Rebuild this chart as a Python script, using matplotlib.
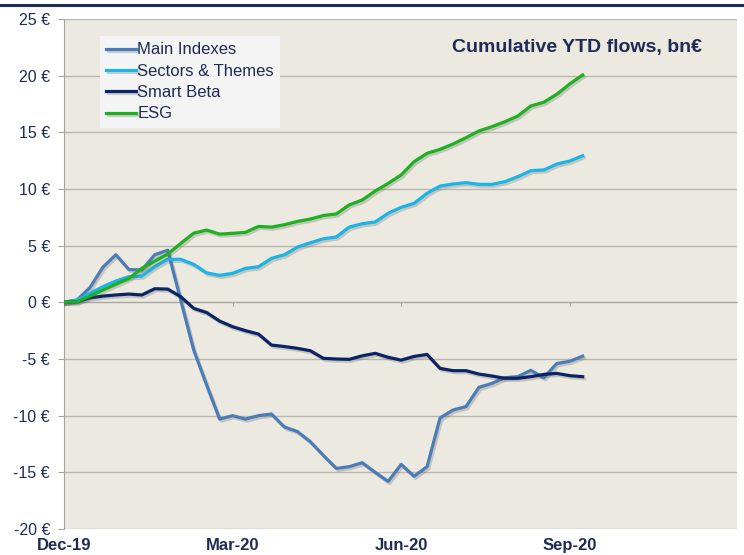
import matplotlib
matplotlib.use("Agg")
import matplotlib.pyplot as plt
import matplotlib.patheffects as pe
from matplotlib.lines import Line2D

# Weekly cumulative YTD flows (bn EUR), week 0 = end Dec-19
main_indexes = [0.0, 0.2, 1.3, 3.1, 4.2, 2.9, 2.85, 4.2, 4.6, 0.2, -4.2, -7.3, -10.3,
                -10.0, -10.3, -10.0, -9.85, -11.0, -11.4, -12.3, -13.5, -14.65, -14.5,
                -14.15, -15.0, -15.8, -14.3, -15.35, -14.5, -10.2, -9.5, -9.2, -7.5,
                -7.15, -6.65, -6.55, -6.0, -6.65, -5.4, -5.2, -4.75]
sectors_themes = [0.0, 0.2, 0.8, 1.38, 1.88, 2.26, 2.32, 3.14, 3.8, 3.8, 3.35, 2.6, 2.38,
                  2.56, 3.0, 3.14, 3.88, 4.2, 4.87, 5.26, 5.6, 5.77, 6.64, 6.94, 7.09,
                  7.86, 8.38, 8.74, 9.62, 10.26, 10.44, 10.56, 10.41, 10.41, 10.65,
                  11.09, 11.62, 11.68, 12.2, 12.47, 12.94]
smart_beta = [0.0, 0.05, 0.4, 0.55, 0.65, 0.73, 0.65, 1.2, 1.17, 0.5, -0.53, -0.9, -1.65,
              -2.15, -2.5, -2.8, -3.77, -3.9, -4.06, -4.27, -4.94, -5.0, -5.03, -4.72,
              -4.5, -4.85, -5.1, -4.77, -4.6, -5.83, -6.03, -6.03, -6.33, -6.5, -6.7,
              -6.7, -6.56, -6.36, -6.27, -6.47, -6.56]
esg = [0.0, 0.05, 0.55, 1.08, 1.6, 2.1, 3.0, 3.64, 4.26, 5.2, 6.1, 6.38, 6.02, 6.09,
       6.18, 6.7, 6.64, 6.85, 7.14, 7.35, 7.66, 7.8, 8.6, 9.03, 9.82, 10.5, 11.24,
       12.41, 13.15, 13.5, 13.97, 14.53, 15.12, 15.5, 15.94, 16.44, 17.33, 17.65,
       18.36, 19.27, 20.06]

series_names = ["Main Indexes", "Sectors & Themes", "Smart Beta", "ESG"]
series_colors = ["#4A7DB8", "#19B4E8", "#0B2466", "#1DB11F"]
x_tick_pos = [0, 13, 26, 39]
x_tick_labels = ["Dec-19", "Mar-20", "Jun-20", "Sep-20"]
y_ticks = list(range(-20, 30, 5))

navy = "#1E2B55"
plt.rcParams["font.family"] = ["Liberation Sans", "DejaVu Sans"]

fig = plt.figure(figsize=(7.44, 5.55), dpi=100)
ax = fig.add_axes([64 / 744, 1 - 529 / 555, 673 / 744, 510 / 555])
ax.set_facecolor("#ECE9E0")

# thin navy rule across the top of the slide
fig.add_artist(Line2D([0, 1], [1 - 5 / 555, 1 - 5 / 555], color=navy, lw=2.2,
                      transform=fig.transFigure))

shadow = [pe.SimpleLineShadow(offset=(1.2, -1.5), alpha=0.25, shadow_color="#555555"),
          pe.Normal()]
for name, color, values in zip(series_names, series_colors,
                               [main_indexes, sectors_themes, smart_beta, esg]):
    ax.plot(range(len(values)), values, color=color, lw=2.3, label=name,
            path_effects=shadow, solid_joinstyle="round", zorder=3)

ax.set_xlim(0, 51.9)
ax.set_ylim(-20, 25)
ax.set_yticks(y_ticks)
ax.set_yticklabels([f"{v} €" for v in y_ticks])
ax.yaxis.grid(True, color="#B9B6AE", lw=1)
ax.set_axisbelow(True)

for side in ["top", "right"]:
    ax.spines[side].set_visible(False)
ax.spines["left"].set_color("#A3A3A3")
ax.spines["bottom"].set_position(("data", 0))
ax.spines["bottom"].set_color("#A8A6A0")

ax.tick_params(axis="y", direction="out", length=4, color="#A3A3A3",
               labelsize=11.5, labelcolor=navy, pad=6)
ax.set_xticks(x_tick_pos)
ax.tick_params(axis="x", direction="out", length=3, color="#A8A6A0",
               labelbottom=False)

# category labels sit under the plot, not on the zero line
sec = ax.secondary_xaxis("bottom")
sec.set_xticks(x_tick_pos)
sec.set_xticklabels(x_tick_labels, fontweight="bold")
sec.tick_params(length=0, labelsize=12, labelcolor=navy, pad=6.5)
sec.spines["bottom"].set_visible(False)

ax.text(0.948, 0.945, "Cumulative YTD flows, bn€", transform=ax.transAxes,
        ha="right", va="center", fontsize=14, fontweight="bold", color=navy)

leg = ax.legend(loc="upper left", bbox_to_anchor=(0.053, 0.967), fontsize=12,
                frameon=True, facecolor="#F4F4F4", edgecolor="none", framealpha=1,
                fancybox=False, handlelength=1.8, handletextpad=0.05,
                labelspacing=0.38, borderpad=0.4, borderaxespad=0)
for text in leg.get_texts():
    text.set_color(navy)

fig.savefig("out.png", dpi=100)
